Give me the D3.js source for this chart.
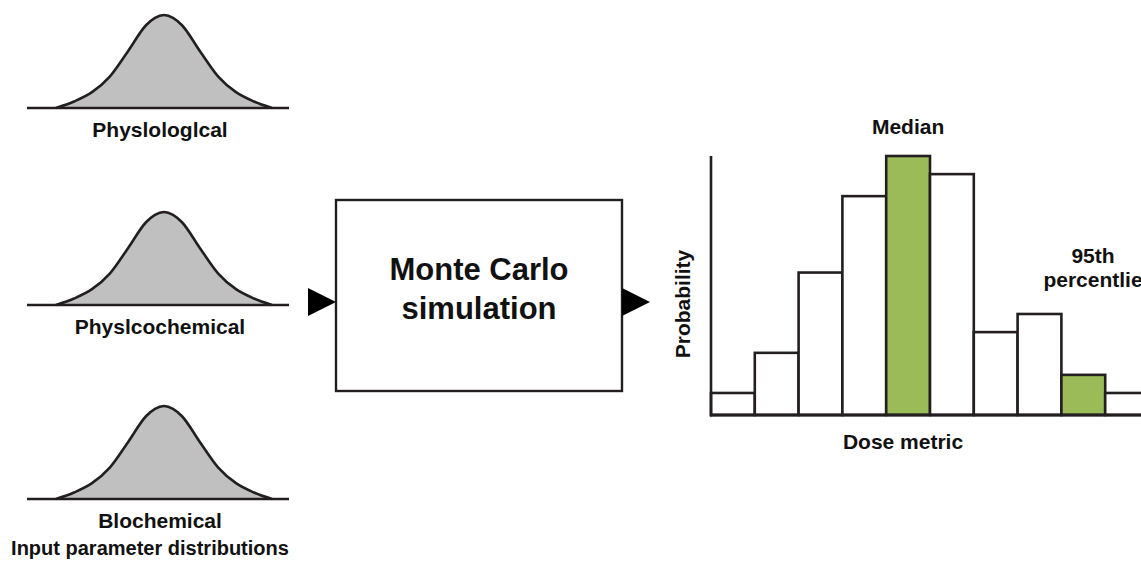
<!DOCTYPE html>
<head>
  <meta charset="utf-8">
  <script src="https://d3js.org/d3.v7.min.js"></script>
  <style>
    body { margin: 0; background: #fff; }
    text { font-family: "Liberation Sans", Arial, sans-serif; font-weight: bold; fill: #111; }
  </style>
</head>
<body>
  <script>
    // input distributions (labels kept as printed)
    var distLabels = ["Physlologlcal", "Physlcochemical", "Blochemical"];
    // shape of each bell curve (x in sd-ish units, height relative to peak)
    var curveX = [-3, -2.5, -2, -1.5, -1, -0.5, -0.25, 0, 0.25, 0.5, 1, 1.5, 2, 2.5, 3];
    var curveY = [0, 0.07, 0.17, 0.34, 0.61, 0.89, 0.97, 1, 0.97, 0.89, 0.61, 0.34, 0.17, 0.07, 0];

    // output histogram
    var doseBins = ["b1", "b2", "b3", "b4", "b5", "b6", "b7", "b8", "b9", "b10"];
    var doseValues = [8.5, 24, 55, 84.5, 100, 93, 32, 39, 15.5, 8.5];
    var highlightBins = ["b5", "b9"]; // median, 95th percentile

    var width = 1141, height = 563;

    var svg = d3.select("body").append("svg")
      .attr("width", width)
      .attr("height", height);

    // ---- bell curves on the left
    var baselines = [108, 305, 499];
    var bellX = d3.scaleLinear().domain([-3, 3]).range([56, 272]);
    var bellH = 93;
    var curvePts = curveX.map(function(x, i) { return [x, curveY[i]]; });

    baselines.forEach(function(base, k) {
      var bellY = d3.scaleLinear().domain([0, 1]).range([base, base - bellH]);
      var g = svg.append("g");

      var area = d3.area()
        .x(function(d) { return bellX(d[0]); })
        .y0(base)
        .y1(function(d) { return bellY(d[1]); })
        .curve(d3.curveMonotoneX);
      var line = d3.line()
        .x(function(d) { return bellX(d[0]); })
        .y(function(d) { return bellY(d[1]); })
        .curve(d3.curveMonotoneX);

      g.append("path").attr("d", area(curvePts)).attr("fill", "#c0c0c0");
      g.append("path").attr("d", line(curvePts))
        .attr("fill", "none").attr("stroke", "#231f20").attr("stroke-width", 2.6);
      g.append("line")
        .attr("x1", 27).attr("x2", 289).attr("y1", base).attr("y2", base)
        .attr("stroke", "#231f20").attr("stroke-width", 2.6);

      g.append("text")
        .attr("x", 160).attr("y", base + 29)
        .attr("text-anchor", "middle")
        .attr("font-size", 21)
        .text(distLabels[k]);
    });

    svg.append("text")
      .attr("x", 150).attr("y", 555)
      .attr("text-anchor", "middle")
      .attr("font-size", 20)
      .text("Input parameter distributions");

    // ---- simulation box
    var box = { x: 336, y: 200, w: 286, h: 191 };
    svg.append("rect")
      .attr("x", box.x).attr("y", box.y)
      .attr("width", box.w).attr("height", box.h)
      .attr("fill", "#fff").attr("stroke", "#231f20").attr("stroke-width", 2.4);

    svg.append("text")
      .attr("x", box.x + box.w / 2).attr("y", 280)
      .attr("text-anchor", "middle").attr("font-size", 31)
      .text("Monte Carlo");
    svg.append("text")
      .attr("x", box.x + box.w / 2).attr("y", 319)
      .attr("text-anchor", "middle").attr("font-size", 31)
      .text("simulation");

    // arrows
    var midY = 302;
    function arrow(xTip) {
      svg.append("path")
        .attr("d", "M" + (xTip - 28) + "," + (midY - 14) + "L" + xTip + "," + midY + "L" + (xTip - 28) + "," + (midY + 14) + "Z")
        .attr("fill", "#000");
    }
    arrow(box.x);
    arrow(box.x + box.w + 28);

    // ---- histogram on the right
    var histX = d3.scaleBand().domain(doseBins).range([711, 711 + 10 * 43.8]).paddingInner(0);
    var histY = d3.scaleLinear().domain([0, 100]).range([415, 156]);

    svg.selectAll(".bar")
      .data(doseBins)
      .enter().append("rect")
      .attr("class", "bar")
      .attr("x", function(d) { return histX(d); })
      .attr("y", function(d, i) { return histY(doseValues[i]); })
      .attr("width", histX.bandwidth())
      .attr("height", function(d, i) { return histY(0) - histY(doseValues[i]); })
      .attr("fill", function(d) { return highlightBins.indexOf(d) >= 0 ? "#9bbb59" : "#fff"; })
      .attr("stroke", "#231f20")
      .attr("stroke-width", 2.6);

    // axes lines
    svg.append("line")
      .attr("x1", 711).attr("x2", 711).attr("y1", 156).attr("y2", histY(0) + 1.5)
      .attr("stroke", "#231f20").attr("stroke-width", 2.6);
    svg.append("line")
      .attr("x1", 710).attr("x2", width).attr("y1", histY(0)).attr("y2", histY(0))
      .attr("stroke", "#231f20").attr("stroke-width", 2.8);

    svg.append("text")
      .attr("x", histX("b5") + histX.bandwidth() / 2).attr("y", 134)
      .attr("text-anchor", "middle").attr("font-size", 21)
      .text("Median");

    svg.append("text")
      .attr("x", 1093).attr("y", 263)
      .attr("text-anchor", "middle").attr("font-size", 21)
      .text("95th");
    svg.append("text")
      .attr("x", 1093).attr("y", 287)
      .attr("text-anchor", "middle").attr("font-size", 21)
      .text("percentlie");

    svg.append("text")
      .attr("x", 903).attr("y", 449)
      .attr("text-anchor", "middle").attr("font-size", 21)
      .text("Dose metric");

    svg.append("text")
      .attr("transform", "translate(690,304) rotate(-90)")
      .attr("text-anchor", "middle").attr("font-size", 21)
      .text("Probability");
  </script>
</body>
